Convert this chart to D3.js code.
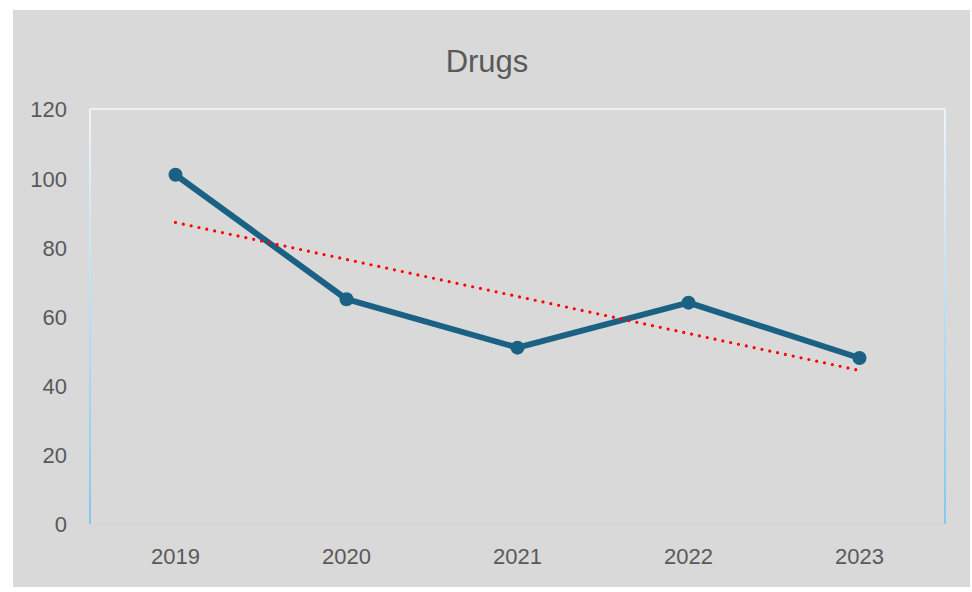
<!DOCTYPE html>
<html><head><meta charset="utf-8">
<script src="https://cdn.jsdelivr.net/npm/d3@7"></script>
<style>body{margin:0;background:#fff}svg{display:block}</style>
</head><body>
<script>
const categories = ["2019","2020","2021","2022","2023"];
const values = [101, 65, 51, 64, 48];
const yTicks = [0,20,40,60,80,100,120];
const title = "Drugs";

const W = 972, H = 592;
const svg = d3.select("body").append("svg").attr("width", W).attr("height", H);
const defs = svg.append("defs");
const g1 = defs.append("linearGradient").attr("id","sideGrad").attr("x1",0).attr("y1",0).attr("x2",0).attr("y2",1);
g1.append("stop").attr("offset","0%").attr("stop-color","#eef4fa");
g1.append("stop").attr("offset","100%").attr("stop-color","#83c8ee");

svg.append("rect").attr("x",13).attr("y",10).attr("width",957).attr("height",577).attr("fill","#d9d9d9");

const m = {l:90, r:945, t:109, b:524};
const x = d3.scaleBand().domain(categories).range([m.l, m.r]);
const y = d3.scaleLinear().domain([0,120]).range([m.b, m.t]);
const font = "'Liberation Sans', Arial, sans-serif";

// plot border
svg.append("line").attr("x1",m.l).attr("x2",m.r).attr("y1",m.t).attr("y2",m.t).attr("stroke","#eaf1f8").attr("stroke-width",2);
svg.append("line").attr("x1",m.l).attr("x2",m.r).attr("y1",m.b).attr("y2",m.b).attr("stroke","#cdd6de").attr("stroke-width",1);
svg.append("rect").attr("x",m.l-1).attr("y",m.t).attr("width",2).attr("height",m.b-m.t).attr("fill","url(#sideGrad)");
svg.append("rect").attr("x",m.r-1).attr("y",m.t).attr("width",2).attr("height",m.b-m.t).attr("fill","url(#sideGrad)");

// title
svg.append("text").attr("x",487).attr("y",72).attr("text-anchor","middle")
  .attr("font-family",font).attr("font-size",31).attr("fill","#595959").text(title);

// y axis
const yAxis = d3.axisLeft(y).tickValues(yTicks).tickSize(0).tickPadding(0);
const ya = svg.append("g").attr("transform",`translate(67,0)`).call(yAxis);
ya.select(".domain").remove();
ya.selectAll("text").attr("font-family",font).attr("font-size",22).attr("fill","#595959").attr("dy","0.36em");

// x axis
const xAxis = d3.axisBottom(x).tickSize(0).tickPadding(0);
const xa = svg.append("g").attr("transform",`translate(0,${m.b})`).call(xAxis);
xa.select(".domain").remove();
xa.selectAll("text").attr("font-family",font).attr("font-size",22).attr("fill","#595959").attr("y",39.5).attr("dy",null);

const cx = d => x(d) + x.bandwidth()/2;

// series line
const line = d3.line().x((d,i)=>cx(categories[i])).y(d=>y(d));
svg.append("path").datum(values).attr("d",line).attr("fill","none")
  .attr("stroke","#1a6184").attr("stroke-width",6).attr("stroke-linejoin","round");
svg.selectAll("circle.pt").data(values).join("circle").attr("class","pt")
  .attr("cx",(d,i)=>cx(categories[i])).attr("cy",d=>y(d)).attr("r",7).attr("fill","#1a6184");

// linear trendline
const n = values.length;
const xs = d3.range(n);
const mx = d3.mean(xs), my = d3.mean(values);
const slope = d3.sum(xs.map((xi,i)=>(xi-mx)*(values[i]-my))) / d3.sum(xs.map(xi=>(xi-mx)**2));
const icpt = my - slope*mx;
const trend = [icpt, icpt + slope*(n-1)];
svg.append("line")
  .attr("x1",cx(categories[0])).attr("y1",y(trend[0]))
  .attr("x2",cx(categories[n-1])).attr("y2",y(trend[1]))
  .attr("stroke","#ff0000").attr("stroke-width",3.2).attr("stroke-linecap","round")
  .attr("stroke-dasharray","0 8");
</script>
</body></html>
